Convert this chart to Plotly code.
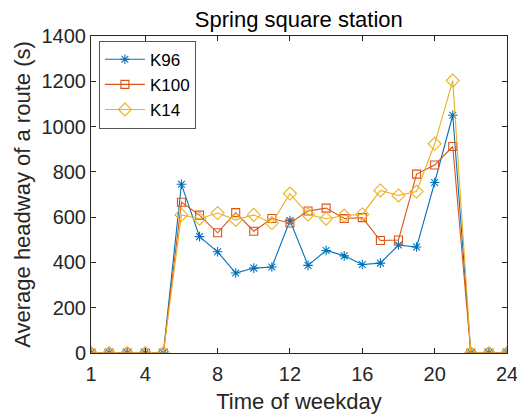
import plotly.graph_objects as go

hours = list(range(1, 25))
k96 = [0, 0, 0, 0, 0, 745, 514, 447, 353, 375, 380, 585, 387, 453, 429, 391,
       397, 477, 468, 753, 1050, 0, 0, 0]
k100 = [0, 0, 0, 0, 0, 666, 609, 531, 620, 538, 594, 574, 627, 640, 594, 598,
        497, 499, 790, 830, 912, 0, 0, 0]
k14 = [0, 0, 0, 0, 0, 610, 593, 618, 588, 610, 574, 704, 612, 593, 607, 612,
       718, 696, 713, 924, 1203, 0, 0, 0]
x_ticks = [1, 4, 8, 12, 16, 20, 24]
y_ticks = [0, 200, 400, 600, 800, 1000, 1200, 1400]

series = [
    ("K96", k96, "#0072BD", "asterisk-open", 8),
    ("K100", k100, "#D95319", "square-open", 8),
    ("K14", k14, "#EDB120", "diamond-open", 10),
]

fig = go.Figure()
for name, vals, color, symbol, size in series:
    fig.add_trace(go.Scatter(
        x=hours, y=vals, name=name, mode="lines+markers",
        line=dict(color=color, width=1.1),
        marker=dict(symbol=symbol, size=size, color=color,
                    line=dict(color=color, width=1.1)),
    ))

font = "Liberation Sans, Arial, sans-serif"
axis_common = dict(
    showgrid=False, zeroline=False, showline=True, linecolor="#262626",
    linewidth=1, mirror="allticks", ticks="inside", ticklen=5,
    tickcolor="#262626", tickfont=dict(family=font, size=20, color="#262626"),
    ticklabeloverflow="allow", automargin=False,
)

fig.update_layout(
    width=517, height=419,
    margin=dict(l=91, r=10, t=36, b=66),
    paper_bgcolor="white", plot_bgcolor="white",
    title=dict(text="Spring square station", x=0.578, xanchor="center",
               y=1 - 19 / 419, yanchor="middle",
               font=dict(family=font, size=22, color="black")),
    xaxis=dict(range=[1, 24], tickvals=x_ticks, ticklabelstandoff=3,
               title=dict(text="Time of weekday", standoff=9,
                          font=dict(family=font, size=22, color="#262626")),
               **axis_common),
    yaxis=dict(range=[0, 1400], tickvals=y_ticks,
               title=dict(text="Average headway of a route (s)", standoff=4,
                          font=dict(family=font, size=22, color="#262626")),
               **axis_common),
    legend=dict(x=0.019, y=0.985, xanchor="left", yanchor="top",
                bgcolor="white", bordercolor="#555555", borderwidth=1,
                font=dict(family=font, size=17, color="black"),
                itemwidth=40, tracegroupgap=0),
    showlegend=True,
)

fig.write_html("out.html")
